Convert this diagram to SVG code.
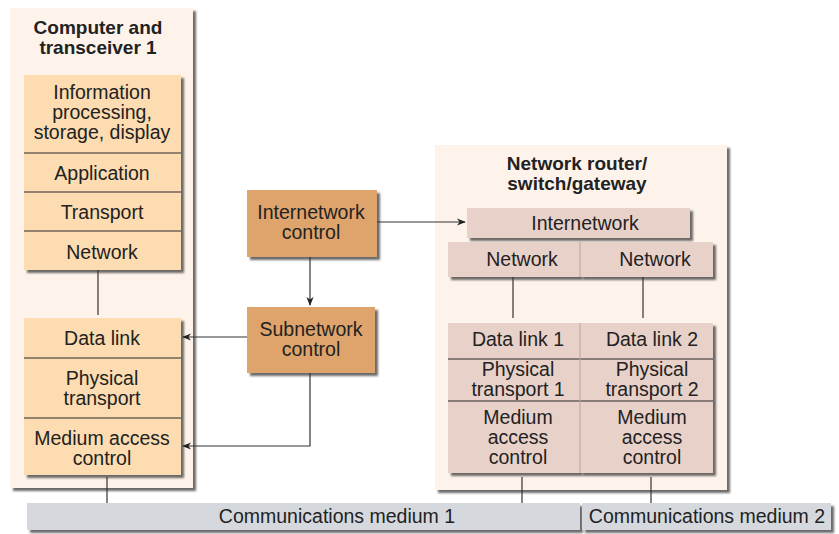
<svg xmlns="http://www.w3.org/2000/svg" width="839" height="534" viewBox="0 0 839 534">
<defs>
<filter id="sh" x="-10%" y="-10%" width="130%" height="130%">
<feDropShadow dx="3" dy="3" stdDeviation="1.3" flood-color="#3a3a3a" flood-opacity="0.75"/>
</filter>
<marker id="ah" viewBox="0 0 10 10" refX="9" refY="5" markerWidth="9" markerHeight="9" markerUnits="userSpaceOnUse" orient="auto">
<path d="M0,1 L10,5 L0,9 L3,5 Z" fill="#222"/>
</marker>
</defs>
<style>
text{font-family:"Liberation Sans",Arial,sans-serif;font-size:19.5px;fill:#222;text-anchor:middle}
.b{font-weight:bold;font-size:19px}
.panel{fill:#fdf3ea;filter:url(#sh)}
.layer{fill:#fcdcb0;filter:url(#sh)}
.rl{fill:#e8d1c9;filter:url(#sh)}
.ctl{fill:#dfa36c;filter:url(#sh)}
.bar{fill:#d5d9dd;filter:url(#sh)}
.div{stroke:#2a2a2a;stroke-width:1.2;fill:none}
.con{stroke:#333;stroke-width:1.2;fill:none}
</style>
<rect width="839" height="534" fill="#fff"/>

<g id="medium1"><rect class="bar" x="27" y="503" width="553" height="27"/><text x="337" y="523">Communications medium 1</text></g>
<g id="medium2"><rect class="bar" x="582" y="503" width="249" height="27"/><text x="707" y="523">Communications medium 2</text></g>

<g id="computer">
<rect class="panel" x="10" y="8" width="183" height="480"/>
<text class="b" x="98" y="34">Computer and</text>
<text class="b" x="98" y="54">transceiver 1</text>
<g id="upper-stack">
<rect class="layer" x="24" y="75" width="157" height="195"/>
<path class="div" d="M24,153H181M24,192H181M24,231H181"/>
<text x="102" y="99">Information</text>
<text x="102" y="119">processing,</text>
<text x="102" y="139">storage, display</text>
<text x="102" y="180">Application</text>
<text x="102" y="219">Transport</text>
<text x="102" y="259">Network</text>
</g>
<g id="lower-stack">
<rect class="layer" x="24" y="318" width="157" height="157"/>
<path class="div" d="M24,358H181M24,418H181"/>
<text x="102" y="345">Data link</text>
<text x="102" y="385">Physical</text>
<text x="102" y="405">transport</text>
<text x="102" y="445">Medium access</text>
<text x="102" y="465">control</text>
</g>
</g>

<g id="internetwork-control">
<rect class="ctl" x="247" y="190" width="130" height="67"/>
<text x="311" y="219">Internetwork</text>
<text x="311" y="239">control</text>
</g>
<g id="subnetwork-control">
<rect class="ctl" x="247" y="307" width="128" height="66"/>
<text x="311" y="336">Subnetwork</text>
<text x="311" y="356">control</text>
</g>

<g id="router">
<rect class="panel" x="435" y="145" width="292" height="345"/>
<text class="b" x="577" y="170">Network router/</text>
<text class="b" x="577" y="190">switch/gateway</text>
<g id="r-internetwork"><rect class="rl" x="467" y="208" width="223" height="30"/><text x="585" y="230">Internetwork</text></g>
<g id="r-network1"><rect class="rl" x="448" y="242" width="132" height="35"/><text x="522" y="266">Network</text></g>
<g id="r-network2"><rect class="rl" x="580" y="242" width="133" height="35"/><text x="655" y="266">Network</text></g>
<g id="r-stack1">
<rect class="rl" x="448" y="323" width="132" height="150"/>
<text x="518" y="346">Data link 1</text>
<text x="518" y="376">Physical</text>
<text x="518" y="396">transport 1</text>
<text x="518" y="424">Medium</text>
<text x="518" y="444">access</text>
<text x="518" y="464">control</text>
</g>
<g id="r-stack2">
<rect class="rl" x="580" y="323" width="133" height="150"/>
<text x="652" y="346">Data link 2</text>
<text x="652" y="376">Physical</text>
<text x="652" y="396">transport 2</text>
<text x="652" y="424">Medium</text>
<text x="652" y="444">access</text>
<text x="652" y="464">control</text>
</g>
<path class="div" d="M448,359H713M448,401H713"/>
<path d="M580,242V277M580,323V473" stroke="#b9a39c" stroke-width="1"/>
</g>

<g id="connectors">
<path class="con" d="M98,270V315"/>
<path class="con" d="M107,477V503"/>
<path class="con" d="M513,277V318"/>
<path class="con" d="M643,277V318"/>
<path class="con" d="M522,477V503"/>
<path class="con" d="M651,477V503"/>
<path class="con" d="M310,257V305" marker-end="url(#ah)"/>
<path class="con" d="M377,222H465" marker-end="url(#ah)"/>
<path class="con" d="M247,337H183" marker-end="url(#ah)"/>
<path class="con" d="M310,373V446H183" marker-end="url(#ah)"/>
</g>
</svg>
